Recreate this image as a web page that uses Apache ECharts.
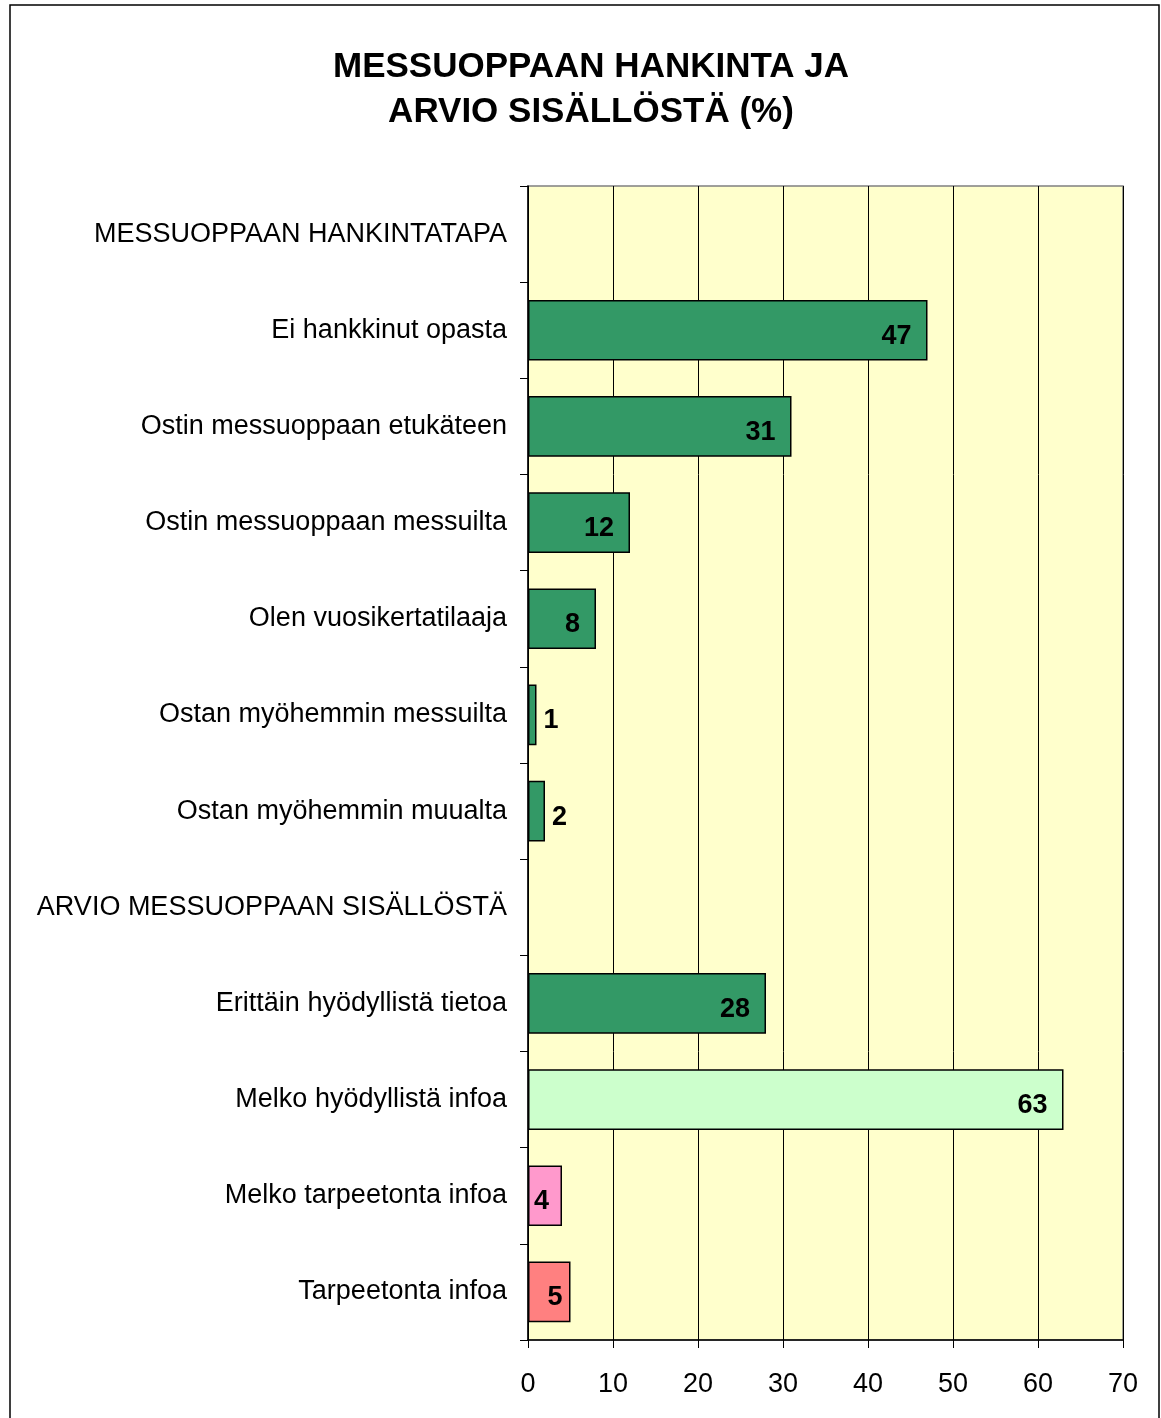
<!DOCTYPE html>
<html>
<head>
<meta charset="utf-8">
<script src="https://cdn.jsdelivr.net/npm/echarts@6/dist/echarts.min.js"></script>
<style>
  html, body { margin: 0; padding: 0; background: #fff; }
  #chart { width: 1161px; height: 1418px; }
</style>
</head>
<body>
<div id="chart"></div>
<script>
// categories top to bottom, header rows have no value
var categories = [
  'MESSUOPPAAN HANKINTATAPA',
  'Ei hankkinut opasta',
  'Ostin messuoppaan etukäteen',
  'Ostin messuoppaan messuilta',
  'Olen vuosikertatilaaja',
  'Ostan myöhemmin messuilta',
  'Ostan myöhemmin muualta',
  'ARVIO MESSUOPPAAN SISÄLLÖSTÄ',
  'Erittäin hyödyllistä tietoa',
  'Melko hyödyllistä infoa',
  'Melko tarpeetonta infoa',
  'Tarpeetonta infoa'
];
var values = [null, 47, 31, 12, 8, 1, 2, null, 28, 63, 4, 5];
var xTicks = [0, 10, 20, 30, 40, 50, 60, 70];

var barColors = ['#339966', '#339966', '#339966', '#339966', '#339966', '#339966', '#339966',
                 '#339966', '#339966', '#CCFFCC', '#FF99CC', '#FF8080'];

var font = 'Arial, "Liberation Sans", sans-serif';

// excel style label placement: outside for tiny bars, inside end otherwise
function labelFor(v) {
  if (v === null) return {};
  if (v < 3) return { position: 'right', distance: 7 };
  if (v < 5) return { position: 'insideLeft', distance: 6 };
  if (v < 6) return { position: 'insideRight', distance: 8 };
  return { position: 'insideRight', distance: 16 };
}

var seriesData = values.map(function (v, i) {
  return {
    value: v,
    itemStyle: { color: barColors[i] },
    label: labelFor(v)
  };
});

var chart = echarts.init(document.getElementById('chart'));
chart.setOption({
  animation: false,
  backgroundColor: '#ffffff',
  title: {
    text: 'MESSUOPPAAN HANKINTA JA\nARVIO SISÄLLÖSTÄ (%)',
    left: 586,
    top: 40,
    textAlign: 'center',
    textStyle: {
      fontFamily: font,
      fontSize: 35,
      fontWeight: 'bold',
      color: '#000',
      lineHeight: 45
    }
  },
  graphic: [{
    type: 'rect',
    shape: { x: 10, y: 5, width: 1149, height: 1430 },
    style: { fill: 'none', stroke: '#000', lineWidth: 1.5 },
    z: -1
  }],
  grid: {
    left: 528,
    right: 38,
    top: 186,
    bottom: 78,
    show: true,
    backgroundColor: '#FFFFCC',
    borderColor: '#808080',
    borderWidth: 1.5
  },
  xAxis: {
    type: 'value',
    min: xTicks[0],
    max: xTicks[xTicks.length - 1],
    interval: 10,
    axisLine: { show: true, lineStyle: { color: '#000', width: 1.5 } },
    axisTick: { show: true, length: 8, lineStyle: { color: '#000' } },
    axisLabel: { fontFamily: font, fontSize: 27, color: '#000', margin: 31 },
    splitLine: { show: true, lineStyle: { color: '#000', width: 1 } }
  },
  yAxis: {
    type: 'category',
    inverse: true,
    data: categories,
    axisLine: { show: true, lineStyle: { color: '#000', width: 1.5 } },
    axisTick: { show: true, length: 8, lineStyle: { color: '#000' } },
    axisLabel: { fontFamily: font, fontSize: 27, color: '#000', margin: 21 }
  },
  series: [{
    type: 'bar',
    data: seriesData,
    barCategoryGap: '37%',
    itemStyle: { borderColor: '#000', borderWidth: 1.5 },
    label: {
      show: true,
      fontFamily: font,
      fontSize: 27,
      fontWeight: 'bold',
      color: '#000',
      offset: [0, 6]
    }
  }]
});
</script>
</body>
</html>
